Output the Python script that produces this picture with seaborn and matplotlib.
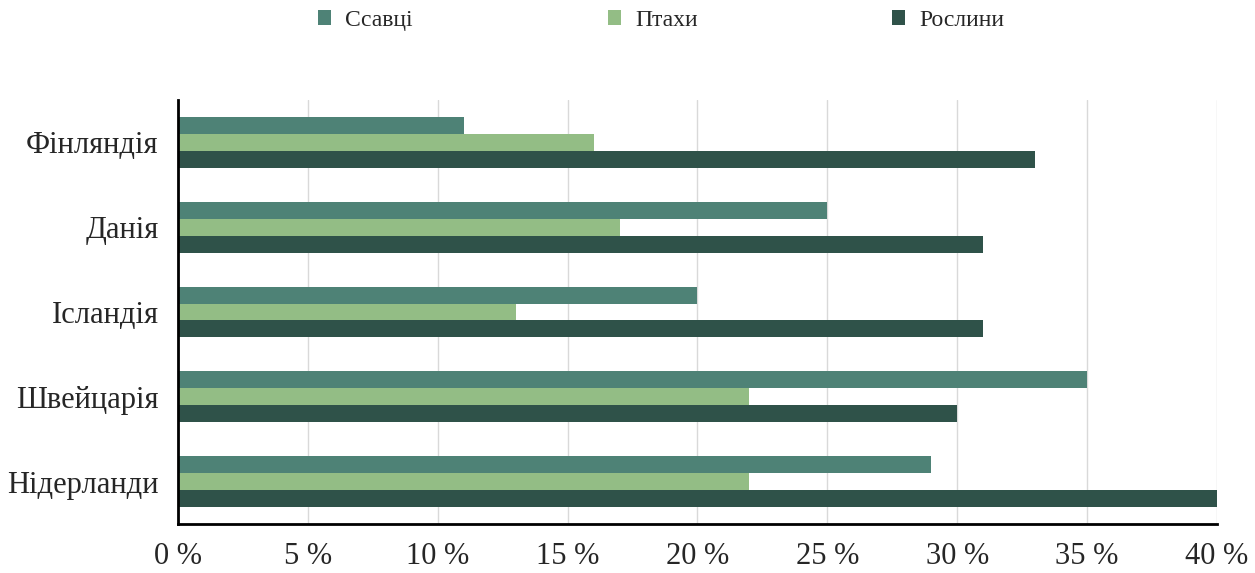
import matplotlib
matplotlib.use("Agg")
import matplotlib.pyplot as plt
import seaborn as sns
import pandas as pd

# дані
countries = ["Фінляндія", "Данія", "Ісландія", "Швейцарія", "Нідерланди"]
groups = ["Ссавці", "Птахи", "Рослини"]
mammals = [11, 25, 20, 35, 29]
birds = [16, 17, 13, 22, 22]
plants = [33, 31, 31, 30, 40]
x_ticks = [0, 5, 10, 15, 20, 25, 30, 35, 40]
colors = ["#4e8276", "#93bd85", "#2f5249"]

df = pd.DataFrame({
    "country": countries * 3,
    "group": [groups[0]] * 5 + [groups[1]] * 5 + [groups[2]] * 5,
    "value": mammals + birds + plants,
})

sns.set_style("white")
plt.rcParams["font.family"] = ["Liberation Serif", "DejaVu Serif"]

fig = plt.figure(figsize=(12.55, 5.73), dpi=100)
ax = fig.add_axes([0.1418, 0.0855, 0.8279, 0.74])

sns.barplot(data=df, y="country", x="value", hue="group", order=countries,
            hue_order=groups, palette=colors, orient="h", width=0.6, gap=0,
            saturation=1, linewidth=0, ax=ax, legend=True)

ax.set_xlim(0, 40)
ax.set_ylim(4.5, -0.5)
ax.set_xticks(x_ticks)
ax.set_xticklabels([f"{t} %" for t in x_ticks], fontsize=22)
ax.tick_params(axis="y", labelsize=22, length=0, pad=14)
ax.tick_params(axis="x", length=0, pad=13)
ax.set_xlabel("")
ax.set_ylabel("")
ax.xaxis.grid(True, color="#d9d9d9", linewidth=1)
ax.set_axisbelow(True)
for s in ["top", "right"]:
    ax.spines[s].set_visible(False)
for s in ["left", "bottom"]:
    ax.spines[s].set_color("black")
    ax.spines[s].set_linewidth(2)

handles, labels = ax.get_legend_handles_labels()
ax.get_legend().remove()
fig.legend(handles, labels, loc="upper center", bbox_to_anchor=(0.527, 1.02),
           ncol=3, frameon=False, fontsize=17, handlelength=0.55, handleheight=0.55,
           handletextpad=0.6, columnspacing=8.25)

fig.savefig("out.png", dpi=100)
